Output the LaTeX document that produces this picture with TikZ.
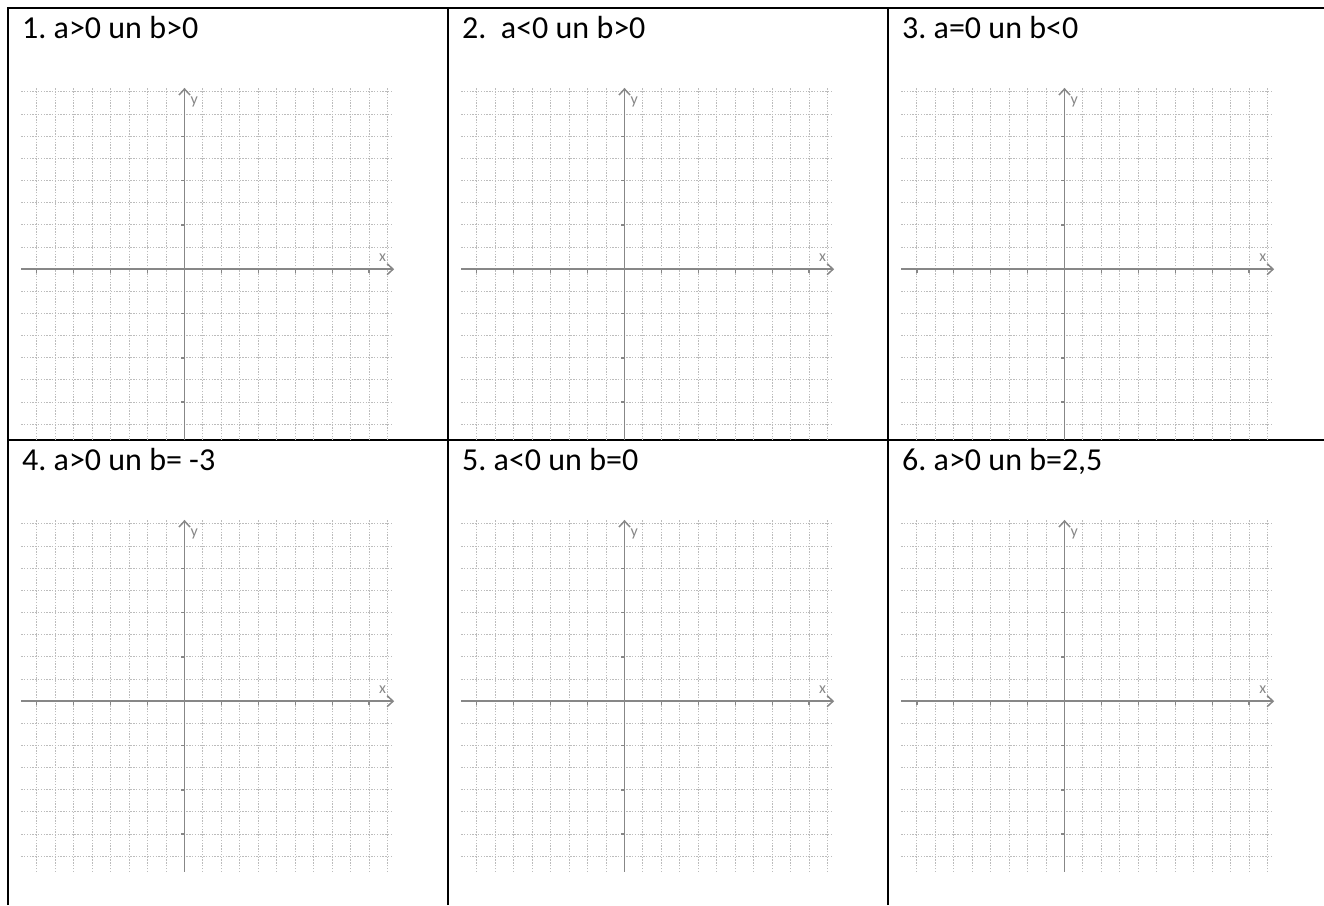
\documentclass[tikz,border=0pt]{standalone}
\usepackage{fontspec}
\setmainfont{Carlito}
\usetikzlibrary{arrows.meta,positioning,calc}

\definecolor{gridgray}{RGB}{188,188,188}
\definecolor{axisgray}{RGB}{135,135,135}

\tikzset{
  gridline/.style={gridgray,line width=1pt,dash pattern=on 1.4pt off 1.4pt},
  axisline/.style={axisgray,line width=1.5pt},
  axisarrow/.style={axisline,-{Straight Barb[length=6pt,width=11pt]}},
  axislabel/.style={text=axisgray,font=\fontsize{16}{16}\selectfont,inner sep=0pt,anchor=base},
  title/.style={anchor=base west,inner sep=0pt,font=\fontsize{32}{38}\selectfont},
  rule/.style={line width=2.5pt}
}

\begin{document}
\frenchspacing
\begin{tikzpicture}[x=1pt,y=1pt]
  \useasboundingbox (0,0) rectangle (1324,905);
  % table lines
  \draw[rule] (8,0) -- (8,897) -- (1324,897);
  \draw[rule] (448,0) -- (448,897);
  \draw[rule] (888,0) -- (888,897);
  \draw[rule] (8,465) -- (1324,465);
  % one title and one coordinate grid per cell
  \foreach \n/\cx/\cy/\txt in {1/8/897/{1. a>0 un b>0},
                               2/448/897/{2.\ \ a<0 un b>0},
                               3/888/897/{3. a=0 un b<0},
                               4/8/465/{4. a>0 un b= -3},
                               5/448/465/{5. a<0 un b=0},
                               6/888/465/{6. a>0 un b=2,5}}{
    \node[title] (t\n) at (\cx+14,\cy-31) {\txt};
    \begin{scope}[shift={(\cx+176.5,\cy-261.2)}]
      \foreach \k in {-8,...,11}
        \draw[gridline] (\k*18.47,-170.7) -- (\k*18.47,182);
      \foreach \j in {-7,...,-1,1,2,...,8}
        \draw[gridline] (-163.3,\j*22.15) -- (208.7,\j*22.15);
      \coordinate (xl\n) at (-163.3,0);
      \coordinate (xr\n) at (209.7,0);
      \coordinate (yb\n) at (0,-170.7);
      \coordinate (yt\n) at (0,181.3);
      \foreach \k in {-8,-6,-4,-2,2,4,6,8,10}
        \draw[axisline] (\k*18.47,0) -- ++(0,-4);
      \foreach \j in {-6,-4,-2,2,4,6}
        \draw[axisline] (0,\j*22.15) -- ++(-4,0);
      \draw[axisarrow] (xl\n) -- (xr\n);
      \draw[axisarrow] (yb\n) -- (yt\n);
      \node[axislabel] (x\n) at (198.2,7.6) {x};
      \node[axislabel] (y\n) at (9.7,164.3) {y};
    \end{scope}
  }
\end{tikzpicture}
\end{document}
